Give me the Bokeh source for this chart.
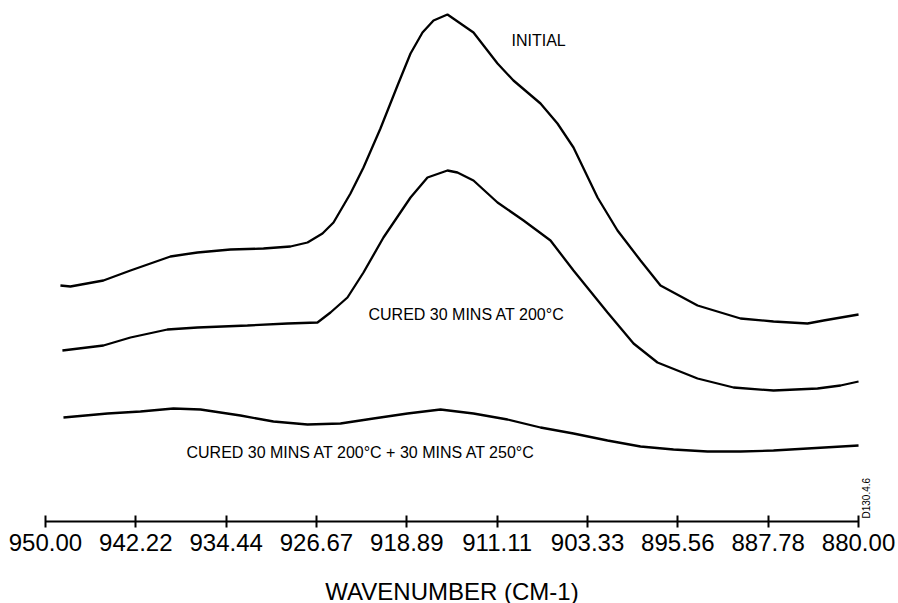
import math
from bokeh.plotting import figure
from bokeh.models import Range1d, FixedTicker, NumeralTickFormatter, Label
from bokeh.embed import file_html
from bokeh.resources import INLINE

# --- data (wavenumber cm-1, absorbance, arbitrary offset units) ---
initial_wn = [948.71, 947.85, 945.01, 942.68, 939.24, 936.91, 934.07, 931.23, 928.91,
              927.44, 926.15, 925.20, 923.74, 922.62, 921.16, 919.69, 918.57, 917.54,
              916.59, 915.39, 913.15, 911.08, 909.71, 907.38, 905.92, 904.54, 902.47,
              900.75, 898.77, 897.05, 893.86, 890.16, 887.32, 884.39, 883.01, 880.00]
initial_abs = [2.36, 2.35, 2.41, 2.51, 2.65, 2.69, 2.72, 2.73, 2.75,
               2.79, 2.88, 2.99, 3.28, 3.54, 3.93, 4.36, 4.68, 4.89,
               5.01, 5.07, 4.89, 4.58, 4.41, 4.18, 3.98, 3.74, 3.24,
               2.91, 2.61, 2.36, 2.16, 2.03, 2.00, 1.98, 2.01, 2.07]

cured200_wn = [948.54, 945.01, 942.68, 939.50, 936.91, 932.61, 929.16, 926.58, 925.46,
               924.00, 922.62, 920.90, 918.57, 917.11, 915.39, 914.53, 913.15, 911.08,
               908.84, 906.52, 904.54, 901.61, 899.37, 897.31, 893.86, 890.76, 887.32,
               883.53, 881.55, 880.00]
cured200_abs = [1.71, 1.76, 1.84, 1.92, 1.94, 1.96, 1.98, 1.99, 2.09,
                2.24, 2.49, 2.84, 3.24, 3.44, 3.51, 3.49, 3.41, 3.19,
                3.01, 2.81, 2.51, 2.09, 1.78, 1.59, 1.43, 1.34, 1.31,
                1.33, 1.36, 1.40]

cured250_wn = [948.45, 944.66, 941.82, 938.98, 936.65, 933.21, 930.37, 927.44, 924.60,
               921.76, 918.83, 915.99, 913.15, 910.22, 907.38, 904.54, 901.61, 898.77,
               895.93, 893.00, 890.16, 887.32, 884.39, 880.00]
cured250_abs = [1.04, 1.08, 1.10, 1.13, 1.12, 1.06, 1.00, 0.97, 0.98,
                1.03, 1.08, 1.12, 1.08, 1.02, 0.94, 0.88, 0.81, 0.75,
                0.72, 0.70, 0.70, 0.71, 0.73, 0.76]

tick_values = [950.00, 942.22, 934.44, 926.67, 918.89, 911.11, 903.33, 895.56, 887.78, 880.00]

labels = ["INITIAL", "CURED 30 MINS AT 200\u00b0C", "CURED 30 MINS AT 200\u00b0C + 30 MINS AT 250\u00b0C"]
label_wn = [909.88, 922.19, 937.86]
label_abs = [4.815, 2.07, 0.695]

FONT = "Liberation Sans"

p = figure(width=898, height=603, output_backend="svg", toolbar_location=None,
           x_range=Range1d(953.87, 876.56), y_range=Range1d(-0.82, 5.21),
           y_axis_type=None, min_border_left=0, min_border_right=0,
           min_border_top=0, min_border_bottom=0)
p.outline_line_color = None
p.xgrid.visible = False
p.ygrid.visible = False
p.background_fill_color = "white"
p.border_fill_color = "white"

for wn, ab in [(initial_wn, initial_abs), (cured200_wn, cured200_abs), (cured250_wn, cured250_abs)]:
    p.line(wn, ab, line_color="black", line_width=2.3)

ax = p.xaxis[0]
ax.fixed_location = 0
ax.bounds = (880, 950)
ax.ticker = FixedTicker(ticks=tick_values)
ax.formatter = NumeralTickFormatter(format="0.00")
ax.minor_tick_line_color = None
ax.major_tick_in = 6
ax.major_tick_out = 6
ax.major_tick_line_width = 2
ax.major_tick_line_color = "black"
ax.axis_line_width = 2
ax.axis_line_color = "black"
ax.major_label_text_font = FONT
ax.major_label_text_font_size = "24px"
ax.major_label_text_color = "black"
ax.major_label_standoff = 6
ax.axis_label = "WAVENUMBER (CM-1)"
ax.axis_label_text_font = FONT
ax.axis_label_text_font_size = "24px"
ax.axis_label_text_font_style = "normal"
ax.axis_label_text_color = "black"
ax.axis_label_standoff = 24

for t, x, y in zip(labels, label_wn, label_abs):
    p.add_layout(Label(x=x, y=y, text=t, text_font=FONT, text_font_size="16px",
                       text_color="black", text_align="left", text_baseline="middle"))

p.add_layout(Label(x=879.3, y=0.03, text="D130.4.6", angle=math.pi / 2,
                   text_font=FONT, text_font_size="10px", text_color="black",
                   text_align="left", text_baseline="alphabetic"))

open("out.html", "w").write(file_html(p, INLINE))
